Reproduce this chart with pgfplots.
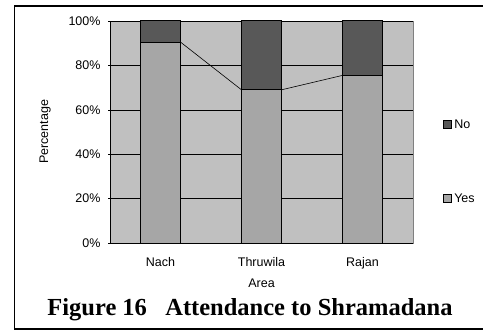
\documentclass[border=0pt]{standalone}
\usepackage{pgfplots}
\pgfplotsset{compat=1.18}
\usepackage{fontspec}
\setmainfont{Liberation Sans}
\newfontfamily\titlefont{Liberation Serif}
\definecolor{bgc}{HTML}{C0C0C0}
\definecolor{yesc}{HTML}{A6A6A6}
\definecolor{noc}{HTML}{585858}
\definecolor{bordc}{HTML}{808080}
\begin{document}
\begin{tikzpicture}[x=1bp,y=1bp]
\useasboundingbox (0,0) rectangle (483,331);
\draw[line width=1.3bp] (484,325) -- (14.5,325) -- (14.5,2) -- (484,2);
\begin{axis}[
  at={(110bp,88bp)}, anchor=south west,
  scale only axis, width=303bp, height=222bp,
  xmin=-0.5, xmax=2.5, ymin=0, ymax=100,
  ybar stacked, bar width=0.396,
  axis background/.style={fill=bgc, draw=bordc, line width=0.8bp},
  axis x line*=bottom, axis y line*=left,
  axis line style={line width=1bp, black, -},
  xtick={0,1,2}, xticklabels={Nach,Thruwila,Rajan},
  major x tick style={draw=none},
  extra x ticks={0.5,1.5}, extra x tick labels={},
  extra x tick style={major tick length=4bp, tick align=inside, tick style={black, line width=0.6bp}},
  ytick={0,20,40,60,80,100},
  yticklabels={0\%,20\%,40\%,60\%,80\%,100\%},
  ytick style={black, line width=0.6bp}, tick align=outside, major tick length=2bp,
  ymajorgrids, grid style={black, line width=0.6bp},
  tick label style={font=\fontsize{12.5bp}{14bp}\selectfont},
  xticklabel style={yshift=-9bp},
  yticklabel style={xshift=-4bp},
  xlabel={Area}, ylabel={Percentage},
  label style={font=\fontsize{12.5bp}{14bp}\selectfont},
  xlabel style={yshift=-1bp},
  ylabel style={yshift=11bp},
  legend style={draw=none, fill=none, at={(1.09,0.575)}, anchor=north west,
    font=\fontsize{12.5bp}{14bp}\selectfont, row sep=60bp,
    legend cell align=left},
  legend image code/.code={\draw[#1, draw=black, line width=0.8bp] (0bp,-4bp) rectangle (8bp,4bp);},
  reverse legend,
]
\addplot[fill=yesc, draw=black, line width=1bp] coordinates {(0,90.5) (1,69) (2,75.5)};
\addplot[fill=noc, draw=black, line width=1bp] coordinates {(0,9.5) (1,31) (2,24.5)};
\legend{Yes,No}
\end{axis}
\begin{axis}[
  at={(110bp,88bp)}, anchor=south west,
  scale only axis, width=303bp, height=222bp,
  xmin=-0.5, xmax=2.5, ymin=0, ymax=100, hide axis,
]
\addplot[black, line width=0.6bp] coordinates {(0.198,90.5) (0.802,69)};
\addplot[black, line width=0.6bp] coordinates {(1.198,69) (1.802,75.5)};
\end{axis}
\node[font=\titlefont\bfseries\fontsize{24.5bp}{27bp}\selectfont] at (250,21) {Figure 16\hspace{0.75em}Attendance to Shramadana};
\end{tikzpicture}
\end{document}
